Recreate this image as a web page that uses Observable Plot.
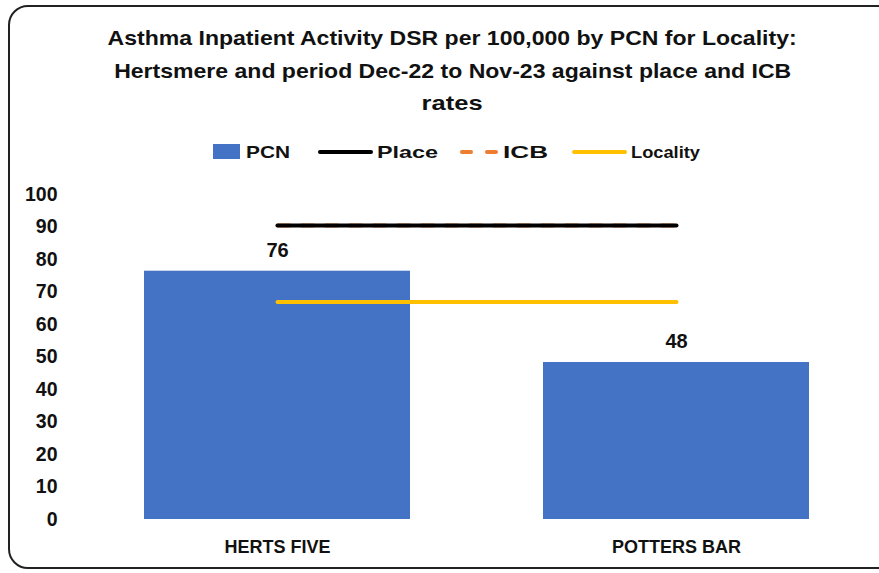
<!DOCTYPE html>
<html>
<head>
<meta charset="utf-8">
<script src="https://cdn.jsdelivr.net/npm/d3@7"></script>
<script src="https://cdn.jsdelivr.net/npm/@observablehq/plot@0.6"></script>
<style>
  html, body { margin: 0; padding: 0; background: #fff; width: 879px; height: 573px; overflow: hidden; }
  body { position: relative; font-family: "Liberation Sans", Arial, sans-serif; }
  #frame { position: absolute; left: 8px; top: 5px; width: 920px; height: 564px; border: 2px solid #222; border-radius: 20px; box-sizing: border-box; }
  .tline { position: absolute; left: 0; width: 905px; text-align: center; font-weight: bold; font-size: 21px; line-height: 21px; color: #111; white-space: nowrap; }
  .tline span, .leg span { display: inline-block; transform-origin: 50% 50%; }
  .leg { position: absolute; top: 143.6px; font-weight: bold; font-size: 17px; line-height: 17px; color: #111; white-space: nowrap; }
  .leg span { transform-origin: 0 50%; }
  .sw { position: absolute; }
  #chart { position: absolute; left: 0; top: 180px; }
</style>
</head>
<body>
<div id="frame"></div>
<div class="tline" style="top:27.2px"><span data-w="689">Asthma Inpatient Activity DSR per 100,000 by PCN for Locality:</span></div>
<div class="tline" style="top:60.2px"><span data-w="677">Hertsmere and period Dec-22 to Nov-23 against place and ICB</span></div>
<div class="tline" style="top:91.5px"><span data-w="61">rates</span></div>
<div class="sw" style="left:213px;top:144px;width:27px;height:15px;background:#4472C4"></div>
<div class="leg" style="left:246px"><span data-w="44">PCN</span></div>
<div class="sw" style="left:318px;top:149.5px;width:55px;height:4px;background:#000;border-radius:2px"></div>
<div class="leg" style="left:377px"><span data-w="61">Place</span></div>
<div class="sw" style="left:460px;top:149.5px;width:13px;height:4px;background:#ED7D31;border-radius:2px"></div>
<div class="sw" style="left:485px;top:149.5px;width:13px;height:4px;background:#ED7D31;border-radius:2px"></div>
<div class="leg" style="left:503px"><span data-w="45">ICB</span></div>
<div class="sw" style="left:572px;top:149.5px;width:55px;height:4px;background:#FFC000;border-radius:2px"></div>
<div class="leg" style="left:631px"><span data-w="69">Locality</span></div>
<div id="chart"></div>
<script>
const categories = ["HERTS FIVE", "POTTERS BAR"];
const pcnValues = [76.4, 48.3];
const pcnLabels = ["76", "48"];
const placeValues = [90.5, 90.5];
const icbValues = [90.5, 90.5];
const localityValues = [66.9, 66.9];
const yTicks = [0, 10, 20, 30, 40, 50, 60, 70, 80, 90, 100];

const bars = categories.map((c, i) => ({cat: c, v: pcnValues[i], label: pcnLabels[i]}));
const place = categories.map((c, i) => ({cat: c, v: placeValues[i]}));
const icb = categories.map((c, i) => ({cat: c, v: icbValues[i]}));
const locality = categories.map((c, i) => ({cat: c, v: localityValues[i]}));

const chart = Plot.plot({
  width: 879,
  height: 385,
  marginLeft: 77,
  marginRight: 2,
  marginTop: 14,
  marginBottom: 46,
  style: {fontFamily: '"Liberation Sans", Arial, sans-serif', fontWeight: "bold", fontSize: "18px", color: "#111", background: "transparent"},
  x: {domain: categories, paddingInner: 0.333, paddingOuter: 0.1667, label: null, tickSize: 0, tickPadding: 21},
  y: {domain: [0, 100], ticks: yTicks, label: null, tickSize: 0, tickPadding: 20},
  marks: [
    Plot.ruleY(yTicks, {stroke: "#d9d9d9", strokeWidth: 1.5, x1: 77, x2: 879}),
    Plot.barY(bars, {x: "cat", y: "v", fill: "#4472C4"}),
    Plot.line(icb, {x: "cat", y: "v", stroke: "#ED7D31", strokeWidth: 4, strokeDasharray: "12,12", strokeLinecap: "round"}),
    Plot.line(place, {x: "cat", y: "v", stroke: "#000", strokeWidth: 4, strokeLinecap: "round"}),
    Plot.line(locality, {x: "cat", y: "v", stroke: "#FFC000", strokeWidth: 4, strokeLinecap: "round"}),
    Plot.dot(bars, {x: "cat", y: "v", dy: -21, symbol: "square", r: 19, fill: "white", stroke: null}),
    Plot.text(bars, {x: "cat", y: "v", text: "label", dy: -21, fill: "#111", fontSize: 20, fontWeight: "bold"})
  ]
});
chart.querySelectorAll("g[aria-label='y-axis tick label']").forEach(g => g.setAttribute("font-size", "19.5"));
document.getElementById("chart").appendChild(chart);

document.querySelectorAll("span[data-w]").forEach(s => {
  const w = s.getBoundingClientRect().width;
  const target = +s.dataset.w;
  if (w > 0) s.style.transform = `scaleX(${target / w})`;
});
</script>
</body>
</html>
